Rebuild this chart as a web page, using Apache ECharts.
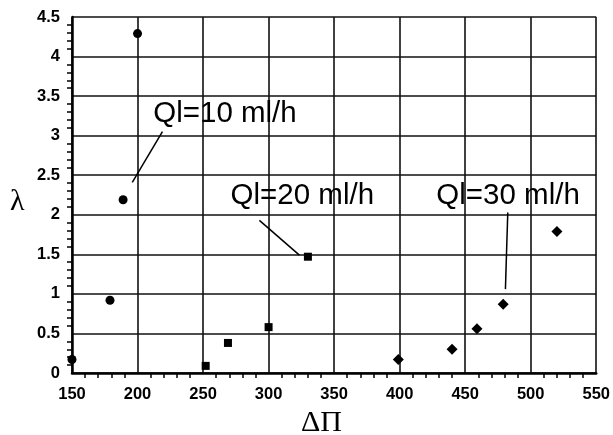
<!DOCTYPE html>
<html>
<head>
<meta charset="utf-8">
<script src="https://cdn.jsdelivr.net/npm/echarts@6/dist/echarts.min.js"></script>
<style>html,body{margin:0;padding:0;background:#fff}#c{width:613px;height:435px}</style>
</head>
<body>
<div id="c"></div>
<script>
// Ql = 10 ml/h (circles)
const ql10 = [[150, 0.17], [179, 0.92], [189, 2.19], [200, 4.29]];
// Ql = 20 ml/h (squares)
const ql20 = [[252, 0.09], [269, 0.38], [300, 0.58], [330, 1.47]];
// Ql = 30 ml/h (diamonds)
const ql30 = [[399, 0.17], [440, 0.30], [459, 0.56], [479, 0.87], [520, 1.79]];

// annotation labels and their leader lines
const labelTexts = ['Ql=10 ml/h', 'Ql=20 ml/h', 'Ql=30 ml/h'];
const labelAnchors = [[212, 3.27], [271, 2.24], [428, 2.24]];
const leader10 = [[219, 3.05], [196, 2.41]];
const leader20 = [[293, 1.93], [323.5, 1.49]];
const leader30 = [[482.5, 2.03], [480.7, 1.06]];

const xTicks = { min: 150, max: 550, interval: 50 };
const yTicks = { min: 0, max: 4.5, interval: 0.5 };

const chart = echarts.init(document.getElementById('c'));
const tickFont = { fontFamily: 'Liberation Sans, Arial, sans-serif', fontWeight: 'bold', fontSize: 16.5, color: '#000' };
const leaderStyle = { color: '#000', width: 1.5 };
function leader(d) {
  return { type: 'line', data: d, symbol: 'none', lineStyle: leaderStyle, silent: true, z: 3, animation: false };
}
chart.setOption({
  animation: false,
  backgroundColor: '#fff',
  grid: { left: 72, right: 12, top: 17, bottom: 62 },
  xAxis: {
    type: 'value', min: xTicks.min, max: xTicks.max, interval: xTicks.interval,
    axisLine: { show: true, lineStyle: { color: '#000', width: 2.5 } },
    axisTick: { show: false },
    minorTick: { show: true, splitNumber: 5, length: 5, lineStyle: { color: '#000', width: 1.5 } },
    axisLabel: Object.assign({ margin: 13 }, tickFont),
    splitLine: { show: true, lineStyle: { color: '#111', width: 1.6 } }
  },
  yAxis: {
    type: 'value', min: yTicks.min, max: yTicks.max, interval: yTicks.interval,
    axisLine: { show: true, lineStyle: { color: '#000', width: 2.5 } },
    axisTick: { show: false },
    minorTick: { show: true, splitNumber: 5, length: 5, lineStyle: { color: '#000', width: 1.5 } },
    axisLabel: Object.assign({ margin: 12 }, tickFont),
    splitLine: { show: true, lineStyle: { color: '#111', width: 1.6 } }
  },
  graphic: [
    { type: 'text', left: 301, top: 408, style: { text: 'ΔΠ', font: '30px "Liberation Serif", "DejaVu Serif", serif', fill: '#000' } },
    { type: 'text', left: 10, top: 187, style: { text: 'λ', font: '30px "Liberation Serif", "DejaVu Serif", serif', fill: '#000' } }
  ],
  series: [
    leader(leader10), leader(leader20), leader(leader30),
    { type: 'scatter', data: ql10, symbol: 'circle', symbolSize: 9, itemStyle: { color: '#000', opacity: 1 }, z: 5 },
    { type: 'scatter', data: ql20, symbol: 'rect', symbolSize: 8, itemStyle: { color: '#000', opacity: 1 }, z: 5 },
    { type: 'scatter', data: ql30, symbol: 'diamond', symbolSize: 11, itemStyle: { color: '#000', opacity: 1 }, z: 5 },
    {
      type: 'scatter', symbolSize: 0, z: 6, silent: true,
      itemStyle: { opacity: 1 },
      data: labelAnchors.map((p, i) => ({ value: p, name: labelTexts[i] })),
      label: {
        show: true, position: 'right', distance: 0,
        formatter: p => p.name,
        fontFamily: 'Liberation Sans, Arial, sans-serif', fontSize: 29.5, color: '#000'
      }
    }
  ]
});
</script>
</body>
</html>
